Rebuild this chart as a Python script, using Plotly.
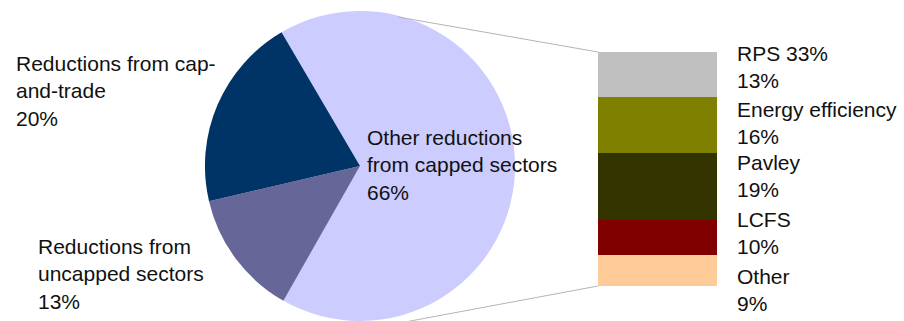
import plotly.graph_objects as go

# Pie data (clockwise order starting at top-left boundary)
pie_labels = ["Other reductions from capped sectors", "Reductions from uncapped sectors", "Reductions from cap-and-trade"]
pie_values = [66, 13, 20]
pie_colors = ["#CCCCFF", "#666699", "#003366"]

# Bar breakdown (bottom to top)
bar_labels = ["Other", "LCFS", "Pavley", "Energy efficiency", "RPS 33%"]
bar_values = [9, 10, 19, 16, 13]
bar_colors = ["#FFCC99", "#800000", "#333300", "#808000", "#C0C0C0"]

W, H = 904, 321
FONT = dict(family="Liberation Sans, Arial, sans-serif", size=21, color="#111111")

fig = go.Figure()

fig.add_trace(go.Pie(
    labels=pie_labels, values=pie_values,
    marker=dict(colors=pie_colors, line=dict(width=0)),
    sort=False, direction="clockwise", rotation=-30.4,
    textinfo="none", showlegend=False,
    domain=dict(x=[(360 - 160) / W, (360 + 160) / W], y=[0, 0.966]),
))

for lab, val, col in zip(bar_labels, bar_values, bar_colors):
    fig.add_trace(go.Bar(
        x=[0], y=[val], width=1, name=lab,
        marker=dict(color=col, line=dict(width=0)),
        showlegend=False, xaxis="x", yaxis="y",
    ))

def px(x):
    return x / W

def py(y):
    return 1 - y / H

annotations = []
def add_text(text, x, y):
    annotations.append(dict(text=text, x=px(x), y=py(y), xref="paper", yref="paper",
                            xanchor="left", yanchor="middle", align="left",
                            showarrow=False, font=FONT))

add_text("Reductions from cap-<br>and-trade<br>20%", 14, 91)
add_text("Reductions from<br>uncapped sectors<br>13%", 36, 274)
add_text("Other reductions<br>from capped sectors<br>66%", 365, 165)

# right-hand labels
right_text = ["Other<br>9%", "LCFS<br>10%", "Pavley<br>19%", "Energy efficiency<br>16%", "RPS 33%<br>13%"]
right_y = [290, 233, 176, 123, 67]
for t, y in zip(right_text, right_y):
    add_text(t, 735, y)

shapes = [
    dict(type="line", xref="paper", yref="paper", x0=px(398), y0=py(17), x1=px(598), y1=py(52),
         line=dict(color="#B4B4B4", width=1)),
    dict(type="line", xref="paper", yref="paper", x0=px(405), y0=py(322), x1=px(598), y1=py(286),
         line=dict(color="#B4B4B4", width=1)),
]

fig.update_layout(
    width=W, height=H,
    margin=dict(l=0, r=0, t=0, b=0),
    paper_bgcolor="white", plot_bgcolor="rgba(0,0,0,0)",
    barmode="stack", bargap=0,
    xaxis=dict(domain=[598 / W, 717 / W], range=[-0.5, 0.5], visible=False, fixedrange=True),
    yaxis=dict(domain=[35 / H, 269.3 / H], range=[0, 67], visible=False, fixedrange=True),
    annotations=annotations, shapes=shapes,
    font=FONT,
)

fig.write_html("out.html", config={"displayModeBar": False},
               post_script="document.body.style.margin='0';document.body.style.overflow='hidden';")
